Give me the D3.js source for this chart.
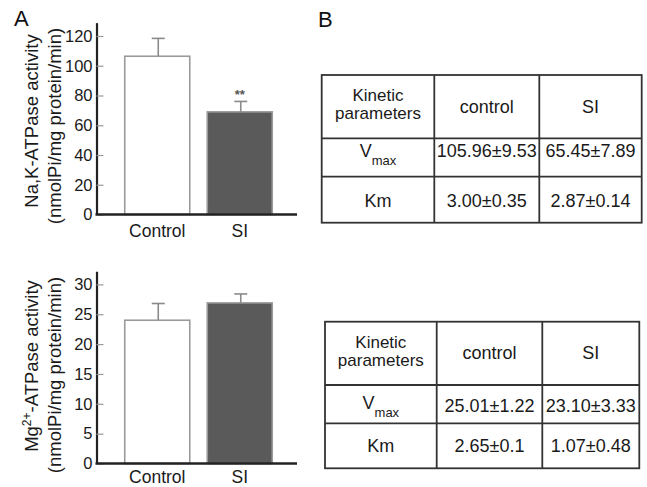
<!DOCTYPE html>
<html>
<head>
<meta charset="utf-8">
<script src="https://cdn.jsdelivr.net/npm/d3@7"></script>
<style>
  body { margin: 0; background: #fff; }
  svg { display: block; font-family: "Liberation Sans", Arial, Helvetica, sans-serif; }
</style>
</head>
<body>
<div id="chart"></div>
<script>
// Groups on the x axis
var groups = ["Control", "SI"];

// Na,K-ATPase activity (top panel), mean and error
var naMeans = [106.4, 69];
var naErrors = [12, 7];
var naTicks = [0, 20, 40, 60, 80, 100, 120];

// Mg2+-ATPase activity (bottom panel), mean and error
var mgMeans = [24.0, 26.9];
var mgErrors = [2.8, 1.5];
var mgTicks = [0, 5, 10, 15, 20, 25, 30];

// Kinetic parameter tables
var tableHead = ["control", "SI"];
var naVmax = ["105.96\u00b19.53", "65.45\u00b17.89"];
var naKm = ["3.00\u00b10.35", "2.87\u00b10.14"];
var mgVmax = ["25.01\u00b11.22", "23.10\u00b13.33"];
var mgKm = ["2.65\u00b10.1", "1.07\u00b10.48"];

var width = 647;
var height = 487;

var svg = d3.select("#chart")
  .append("svg")
  .attr("width", width)
  .attr("height", height);

svg.append("rect").attr("width", width).attr("height", height).attr("fill", "#fff");

// Panel letters
svg.append("text").attr("x", 14).attr("y", 26).attr("font-size", 22).attr("fill", "#111").text("A");
svg.append("text").attr("x", 318).attr("y", 26.5).attr("font-size", 22).attr("fill", "#111").text("B");

var axisX = 96.5;
var baseEnd = 297;

var xScale = d3.scaleBand()
  .domain(groups)
  .range([116, 281])
  .paddingInner(0.212)
  .paddingOuter(0.106);

function drawPanel(opt) {
  var g = svg.append("g");
  var yScale = d3.scaleLinear()
    .domain([0, opt.top])
    .range([opt.base, opt.base - opt.top * opt.pxPerUnit]);

  var data = groups.map(function(name, i) {
    return { name: name, mean: opt.means[i], err: opt.errors[i] };
  });

  // bars
  g.selectAll(".bar")
    .data(data)
    .enter()
    .append("rect")
    .attr("x", function(d) { return xScale(d.name); })
    .attr("y", function(d) { return yScale(d.mean); })
    .attr("width", xScale.bandwidth())
    .attr("height", function(d) { return yScale(0) - yScale(d.mean); })
    .attr("fill", function(d, i) { return i === 0 ? "#ffffff" : "#5a5a5a"; })
    .attr("stroke", "#9a9a9a")
    .attr("stroke-width", 1.6);

  // error bars
  var eb = g.selectAll(".err").data(data).enter().append("g");
  eb.append("line")
    .attr("x1", function(d) { return xScale(d.name) + xScale.bandwidth() / 2 + 1; })
    .attr("x2", function(d) { return xScale(d.name) + xScale.bandwidth() / 2 + 1; })
    .attr("y1", function(d) { return yScale(d.mean); })
    .attr("y2", function(d) { return yScale(d.mean + d.err); })
    .attr("stroke", "#8a8a8a")
    .attr("stroke-width", 1.6);
  eb.append("line")
    .attr("x1", function(d) { return xScale(d.name) + xScale.bandwidth() / 2 + 1 - 6.5; })
    .attr("x2", function(d) { return xScale(d.name) + xScale.bandwidth() / 2 + 1 + 6.5; })
    .attr("y1", function(d) { return yScale(d.mean + d.err); })
    .attr("y2", function(d) { return yScale(d.mean + d.err); })
    .attr("stroke", "#8a8a8a")
    .attr("stroke-width", 1.6);

  // y axis with inward ticks
  var yAxis = d3.axisLeft(yScale)
    .tickValues(opt.ticks)
    .tickSizeInner(-7)
    .tickSizeOuter(0)
    .tickPadding(4);
  var ax = g.append("g")
    .attr("transform", "translate(" + axisX + ",0)")
    .call(yAxis);
  ax.select(".domain").attr("stroke", "#222").attr("stroke-width", 2.2);
  ax.selectAll(".tick line").attr("stroke", "#9a9a9a").attr("stroke-width", 1.2);
  ax.selectAll(".tick text")
    .attr("font-size", 16.5)
    .attr("fill", "#1a1a1a")
    .attr("font-family", "Liberation Sans, Arial, sans-serif");

  // baseline
  g.append("line")
    .attr("x1", axisX - 1)
    .attr("x2", baseEnd)
    .attr("y1", yScale(0))
    .attr("y2", yScale(0))
    .attr("stroke", "#222")
    .attr("stroke-width", 2.4);

  // x labels
  g.selectAll(".xlab")
    .data(groups)
    .enter()
    .append("text")
    .attr("x", function(d) { return xScale(d) + xScale.bandwidth() / 2; })
    .attr("y", yScale(0) + opt.labelGap)
    .attr("text-anchor", "middle")
    .attr("font-size", 17.5)
    .attr("fill", "#1a1a1a")
    .text(function(d) { return d; });

  // y title, two lines
  var t1 = g.append("text")
    .attr("transform", "translate(38," + opt.mid1 + ")rotate(-90)")
    .attr("text-anchor", "middle")
    .attr("font-size", 18.5)
    .attr("fill", "#1a1a1a");
  opt.title1(t1);
  g.append("text")
    .attr("transform", "translate(61," + opt.mid2 + ")rotate(-90)")
    .attr("text-anchor", "middle")
    .attr("font-size", 18.5)
    .attr("fill", "#1a1a1a")
    .text("(nmolPi/mg protein/min)");

  return { g: g, y: yScale, data: data };
}

var naPanel = drawPanel({
  means: naMeans, errors: naErrors, ticks: naTicks,
  top: 129, base: 214.5, pxPerUnit: 1.4875,
  mid1: 121, mid2: 126, labelGap: 22.5,
  title1: function(t) { t.text("Na,K-ATPase activity"); }
});

// significance mark over SI bar
naPanel.g.append("text")
  .attr("x", xScale("SI") + xScale.bandwidth() / 2)
  .attr("y", naPanel.y(naMeans[1] + naErrors[1]) - 2.5)
  .attr("text-anchor", "middle")
  .attr("font-size", 13)
  .attr("font-weight", "bold")
  .attr("fill", "#555")
  .text("**");

drawPanel({
  means: mgMeans, errors: mgErrors, ticks: mgTicks,
  top: 32.2, base: 463.5, pxPerUnit: 5.97,
  mid1: 366, mid2: 375, labelGap: 19,
  title1: function(t) {
    t.append("tspan").text("Mg");
    t.append("tspan").attr("font-size", 12).attr("dy", -7).text("2+");
    t.append("tspan").attr("dy", 7).text("-ATPase activity");
  }
});

// Tables
function drawTable(opt) {
  var g = svg.append("g");
  var xs = opt.cols;
  var ys = opt.rows;
  var cx = function(i) { return (xs[i] + xs[i + 1]) / 2; };

  // cell borders
  g.append("rect")
    .attr("x", xs[0]).attr("y", ys[0])
    .attr("width", xs[3] - xs[0]).attr("height", ys[3] - ys[0])
    .attr("fill", "none").attr("stroke", "#333").attr("stroke-width", 1.8);
  g.selectAll(".vl").data([1, 2]).enter().append("line")
    .attr("x1", function(i) { return xs[i]; }).attr("x2", function(i) { return xs[i]; })
    .attr("y1", ys[0]).attr("y2", ys[3])
    .attr("stroke", "#333").attr("stroke-width", 1.8);
  g.selectAll(".hl").data([1, 2]).enter().append("line")
    .attr("x1", xs[0]).attr("x2", xs[3])
    .attr("y1", function(i) { return ys[i]; }).attr("y2", function(i) { return ys[i]; })
    .attr("stroke", "#333").attr("stroke-width", 1.8);

  var txt = function(x, y, size) {
    return g.append("text").attr("x", x).attr("y", y)
      .attr("text-anchor", "middle").attr("font-size", size || 18).attr("fill", "#1a1a1a");
  };

  // header
  txt(cx(0), ys[0] + 26.2, 17).text("Kinetic");
  txt(cx(0), ys[0] + 44, 17).text("parameters");
  tableHead.forEach(function(h, i) { txt(cx(i + 1), ys[0] + 37.5).text(h); });

  // Vmax row
  var v = txt(cx(0), ys[1] + opt.vBase);
  v.append("tspan").text("V");
  v.append("tspan").attr("font-size", 13).attr("dy", 8.5).text("max");
  opt.vmax.forEach(function(s, i) { txt(cx(i + 1), ys[1] + opt.valBase).text(s); });

  // Km row
  txt(cx(0), ys[2] + opt.kmBase).text("Km");
  opt.km.forEach(function(s, i) { txt(cx(i + 1), ys[2] + opt.kmBase).text(s); });
}

drawTable({
  cols: [321.7, 434.3, 539.3, 641.7],
  rows: [75, 138.3, 176.7, 222.7],
  vmax: naVmax, km: naKm,
  vBase: 18.5, valBase: 18.5, kmBase: 30
});

drawTable({
  cols: [325, 436.7, 542.3, 639.3],
  rows: [321.7, 385, 423.3, 468.3],
  vmax: mgVmax, km: mgKm,
  vBase: 23.5, valBase: 26.7, kmBase: 28.4
});
</script>
</body>
</html>
